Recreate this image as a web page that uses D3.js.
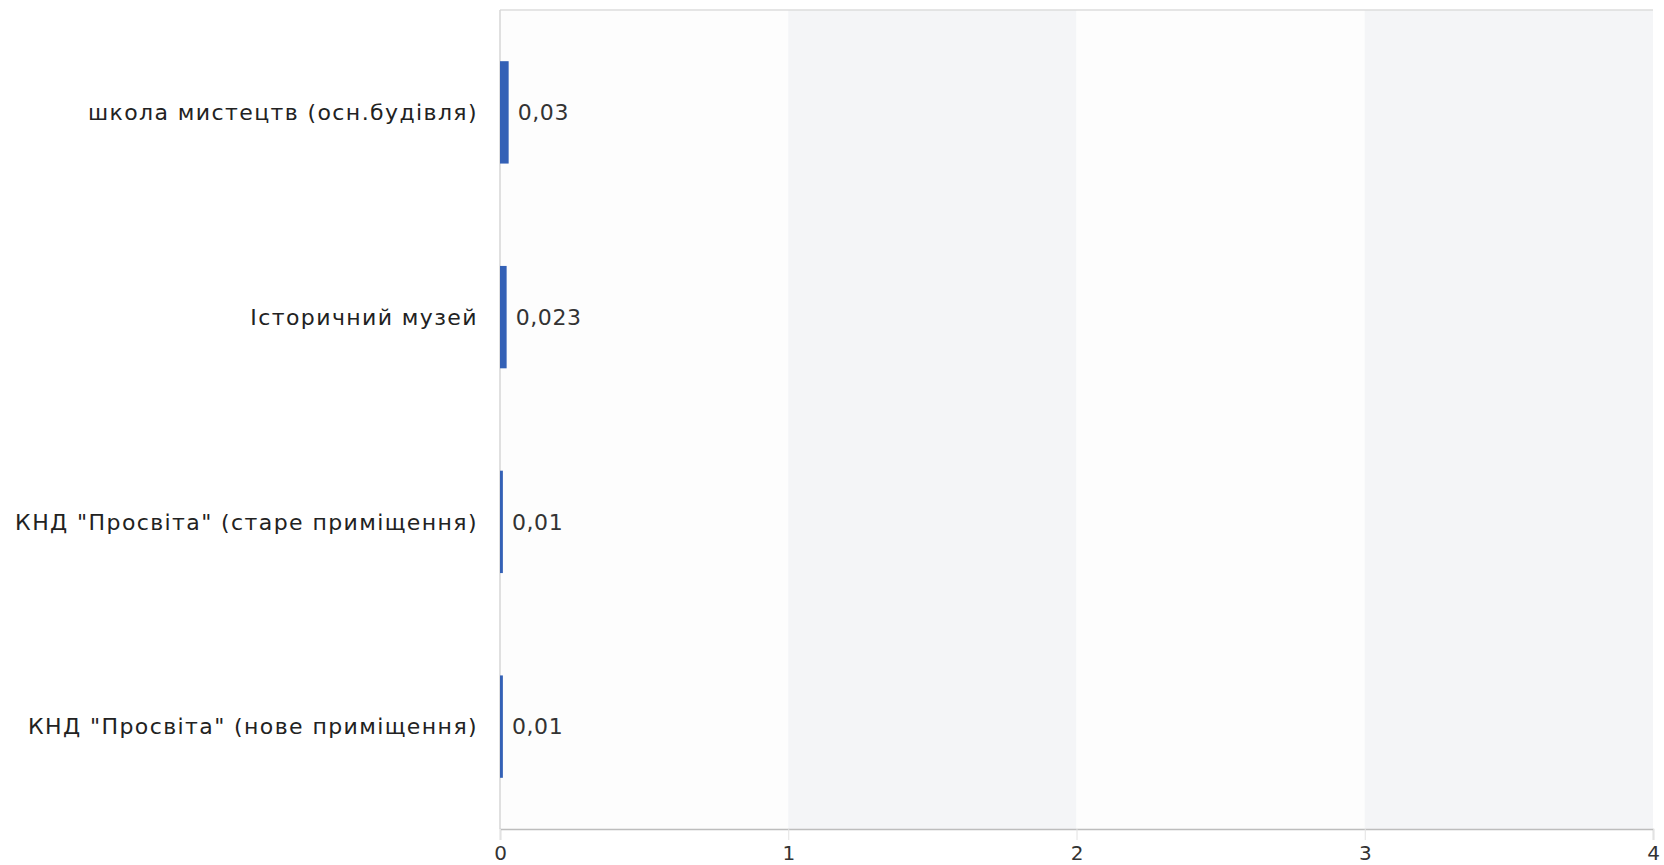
<!DOCTYPE html>
<html><head><meta charset="utf-8">
<script src="https://cdn.jsdelivr.net/npm/d3@7"></script>
<style>body{margin:0;background:#fff;} svg{display:block;}</style>
</head><body>
<svg id="c" width="1664" height="865"></svg>
<script>
const categories = ["школа мистецтв (осн.будівля)", "Історичний музей", "КНД \"Просвіта\" (старе приміщення)", "КНД \"Просвіта\" (нове приміщення)"];
const values = [0.03, 0.023, 0.01, 0.01];
const valueLabels = ["0,03", "0,023", "0,01", "0,01"];
const xTicks = [0, 1, 2, 3, 4];

const svg = d3.select("#c");
const m = {l: 500, r: 1653, t: 10, b: 829};
const x = d3.scaleLinear().domain([0, 4]).range([m.l, m.r]);
const y = d3.scaleBand().domain(categories).range([m.t, m.b]).paddingInner(0.5).paddingOuter(0.25);

// background bands
svg.selectAll("rect.band").data(xTicks.slice(0, -1)).enter().append("rect")
  .attr("x", d => x(d)).attr("y", m.t).attr("width", d => x(d + 1) - x(d)).attr("height", m.b - m.t)
  .attr("fill", (d, i) => i % 2 ? "#f4f5f7" : "#fdfdfd");

// top border
svg.append("line").attr("x1", m.l).attr("x2", m.r).attr("y1", m.t).attr("y2", m.t).attr("stroke", "#dcdcdc").attr("stroke-width", 1.5);
// left axis line
svg.append("line").attr("x1", m.l).attr("x2", m.l).attr("y1", m.t).attr("y2", m.b).attr("stroke", "#d6d6d6").attr("stroke-width", 1.5);

// x axis
const xa = svg.append("g").attr("transform", `translate(0,${m.b})`)
  .call(d3.axisBottom(x).tickValues(xTicks).tickFormat(d3.format("d")).tickSize(11).tickPadding(6));
xa.select(".domain").attr("stroke", "#bdbdbd").attr("stroke-width", 1.5);
xa.selectAll(".tick line").attr("stroke", "#e2e2e2");
xa.selectAll(".tick text").attr("font-family", "DejaVu Sans").attr("font-size", 20).attr("fill", "#333");

// bars
svg.selectAll("rect.bar").data(values).enter().append("rect")
  .attr("x", x(0)).attr("y", (d, i) => y(categories[i]))
  .attr("width", d => x(d) - x(0)).attr("height", y.bandwidth())
  .attr("fill", "#3461b6");

// value labels
svg.selectAll("text.val").data(values).enter().append("text")
  .attr("x", d => x(d) + 9).attr("y", (d, i) => y(categories[i]) + y.bandwidth() / 2)
  .attr("dy", "0.35em").attr("font-family", "DejaVu Sans").attr("font-size", 22).attr("letter-spacing", 0.6).attr("fill", "#333")
  .text((d, i) => valueLabels[i]);

// category labels
svg.selectAll("text.cat").data(categories).enter().append("text")
  .attr("x", m.l - 22).attr("y", d => y(d) + y.bandwidth() / 2)
  .attr("dy", "0.35em").attr("text-anchor", "end")
  .attr("font-family", "DejaVu Sans").attr("font-size", 22).attr("letter-spacing", 1.4).attr("fill", "#222")
  .text(d => d);
</script>
</body></html>
